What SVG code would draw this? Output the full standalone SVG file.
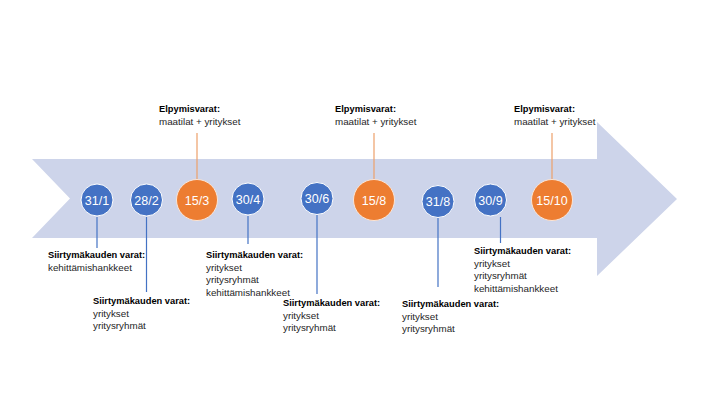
<svg xmlns="http://www.w3.org/2000/svg" width="720" height="405" viewBox="0 0 720 405">
  <style>
    .blue { fill: #4472C4; stroke: #ffffff; stroke-width: 1; }
    .orange { fill: #ED7D31; stroke: #FBE5D6; stroke-width: 1; }
    .date { font-family: "Liberation Sans", Arial, sans-serif; font-size: 12.5px; fill: #ffffff; text-anchor: middle; }
    .lbl { font-family: "Liberation Sans", Arial, sans-serif; font-size: 9.8px; fill: #262626; }
    .b { font-weight: bold; font-size: 9.3px; fill: #000000; }
    .bl { stroke: #4472C4; stroke-width: 1.2; fill: none; }
    .ol { stroke: #EDA06A; stroke-width: 1.2; fill: none; }
  </style>
  <rect width="720" height="405" fill="#ffffff"/>
  <g id="arrow">
    <polygon points="32,159 597,159 597,122 677,199 597,276 597,238 32,238 70,198.5" fill="#CDD4EA"/>
  </g>
  <g id="connectors">
    <line class="bl" x1="97" y1="217" x2="97" y2="248"/>
    <line class="bl" x1="146.5" y1="217" x2="146.5" y2="292"/>
    <line class="ol" x1="197" y1="133" x2="197" y2="179"/>
    <line class="bl" x1="248" y1="216" x2="248" y2="244"/>
    <line class="bl" x1="317" y1="215" x2="317" y2="294"/>
    <line class="ol" x1="374" y1="133" x2="374" y2="179"/>
    <line class="bl" x1="438" y1="218" x2="438" y2="287"/>
    <line class="bl" x1="500.5" y1="217" x2="500.5" y2="243"/>
    <line class="ol" x1="552" y1="133" x2="552" y2="179"/>
  </g>
  <g id="n-31-1">
    <circle class="blue" cx="97" cy="200" r="16"/>
    <text class="date" x="97" y="204.5">31/1</text>
    <text class="lbl" x="48" y="258"><tspan class="b">Siirtymäkauden varat:</tspan><tspan x="48" dy="12.5">kehittämishankkeet</tspan></text>
  </g>
  <g id="n-28-2">
    <circle class="blue" cx="146.5" cy="200" r="16"/>
    <text class="date" x="146.5" y="204.5">28/2</text>
    <text class="lbl" x="93" y="304"><tspan class="b">Siirtymäkauden varat:</tspan><tspan x="93" dy="12.5">yritykset</tspan><tspan x="93" dy="12.5">yritysryhmät</tspan></text>
  </g>
  <g id="n-15-3">
    <circle class="orange" cx="197" cy="200" r="20.5"/>
    <text class="date" x="197" y="204.5">15/3</text>
    <text class="lbl" x="159" y="112"><tspan class="b">Elpymisvarat:</tspan><tspan x="159" dy="12.5">maatilat + yritykset</tspan></text>
  </g>
  <g id="n-30-4">
    <circle class="blue" cx="248" cy="199" r="16"/>
    <text class="date" x="248" y="203.5">30/4</text>
    <text class="lbl" x="206" y="258"><tspan class="b">Siirtymäkauden varat:</tspan><tspan x="206" dy="12.5">yritykset</tspan><tspan x="206" dy="12.5">yritysryhmät</tspan><tspan x="206" dy="12.5">kehittämishankkeet</tspan></text>
  </g>
  <g id="n-30-6">
    <circle class="blue" cx="317" cy="198.5" r="16"/>
    <text class="date" x="317" y="203">30/6</text>
    <text class="lbl" x="283" y="306"><tspan class="b">Siirtymäkauden varat:</tspan><tspan x="283" dy="12.5">yritykset</tspan><tspan x="283" dy="12.5">yritysryhmät</tspan></text>
  </g>
  <g id="n-15-8">
    <circle class="orange" cx="374" cy="200" r="20.5"/>
    <text class="date" x="374" y="204.5">15/8</text>
    <text class="lbl" x="335" y="112"><tspan class="b">Elpymisvarat:</tspan><tspan x="335" dy="12.5">maatilat + yritykset</tspan></text>
  </g>
  <g id="n-31-8">
    <circle class="blue" cx="438" cy="201.5" r="16"/>
    <text class="date" x="438" y="206">31/8</text>
    <text class="lbl" x="402" y="307"><tspan class="b">Siirtymäkauden varat:</tspan><tspan x="402" dy="12.5">yritykset</tspan><tspan x="402" dy="12.5">yritysryhmät</tspan></text>
  </g>
  <g id="n-30-9">
    <circle class="blue" cx="490.5" cy="200" r="16"/>
    <text class="date" x="490.5" y="204.5">30/9</text>
    <text class="lbl" x="474" y="254"><tspan class="b">Siirtymäkauden varat:</tspan><tspan x="474" dy="12.5">yritykset</tspan><tspan x="474" dy="12.5">yritysryhmät</tspan><tspan x="474" dy="12.5">kehittämishankkeet</tspan></text>
  </g>
  <g id="n-15-10">
    <circle class="orange" cx="552" cy="200" r="20.5"/>
    <text class="date" x="552" y="204.5">15/10</text>
    <text class="lbl" x="514" y="112"><tspan class="b">Elpymisvarat:</tspan><tspan x="514" dy="12.5">maatilat + yritykset</tspan></text>
  </g>
</svg>
